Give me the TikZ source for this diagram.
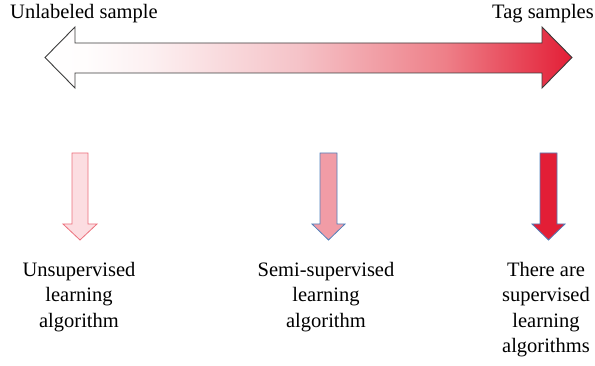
\documentclass[tikz,border=0pt]{standalone}
\usepackage{fontspec}
\setmainfont{Liberation Serif}
\usepackage{tikz}
\usetikzlibrary{positioning}
\definecolor{tagred}{RGB}{227,30,54}
\definecolor{pinkmid}{RGB}{245,195,200}
\definecolor{pinkdeep}{RGB}{238,127,136}
\definecolor{palepink}{RGB}{252,221,225}
\definecolor{paleline}{RGB}{236,112,124}
\definecolor{rosefill}{RGB}{241,156,166}
\definecolor{officeblue}{RGB}{79,129,189}
\definecolor{rimgray}{RGB}{60,60,60}
\pgfdeclarehorizontalshading{tagfade}{100bp}{color(0bp)=(white); color(25bp)=(white); color(29bp)=(white!96!pinkmid); color(35bp)=(white!75!pinkmid); color(49bp)=(pinkmid); color(63bp)=(pinkdeep); color(75bp)=(tagred); color(100bp)=(tagred)}
\tikzset{
    labeltext/.style = {inner sep=0pt, font=\fontsize{20.5}{25.5}\selectfont},
    algtext/.style = {labeltext, align=center, anchor=north},
    bigarrow/.style = {draw=rimgray, line width=0.9pt, shading=tagfade, line join=miter},
    downarrow/.style = {line width=0.8pt, line join=miter},
}
\begin{document}
\begin{tikzpicture}[x=1pt, y=-1pt]
\useasboundingbox (0,0) rectangle (595,366);
% spectrum of samples
\draw[bigarrow] (45,57.5) -- (75,27) -- (75,43) -- (542,43) -- (542,27)
    -- (572,57.5) -- (542,88) -- (542,73) -- (75,73) -- (75,88) -- cycle;
\node[labeltext, anchor=base west] at (10,19) (unlab) {Unlabeled sample};
\node[labeltext, anchor=base east] at (594,19) (tag) {Tag samples};
%
\draw[downarrow, draw=paleline, fill=palepink] (72,153) -- (88,153) -- (88,224)
    -- (97,224) -- (80,240) -- (63,224) -- (72,224) -- cycle;
\draw[downarrow, draw=officeblue, fill=rosefill] (320,153) -- (337,153) -- (337,224)
    -- (345,224) -- (328.5,240) -- (312,224) -- (320,224) -- cycle;
\draw[downarrow, draw=officeblue, fill=tagred] (540,153) -- (557,153) -- (557,224)
    -- (565,224) -- (548.5,240) -- (532,224) -- (540,224) -- cycle;
%
\node[algtext] at (79,262) (unsup) {Unsupervised\\learning\\algorithm};
\node[algtext] at (326,262) (semi) {Semi-supervised\\learning\\algorithm};
\node[algtext] at (546,262) (sup) {There are\\supervised\\learning\\algorithms};
\end{tikzpicture}
\end{document}
